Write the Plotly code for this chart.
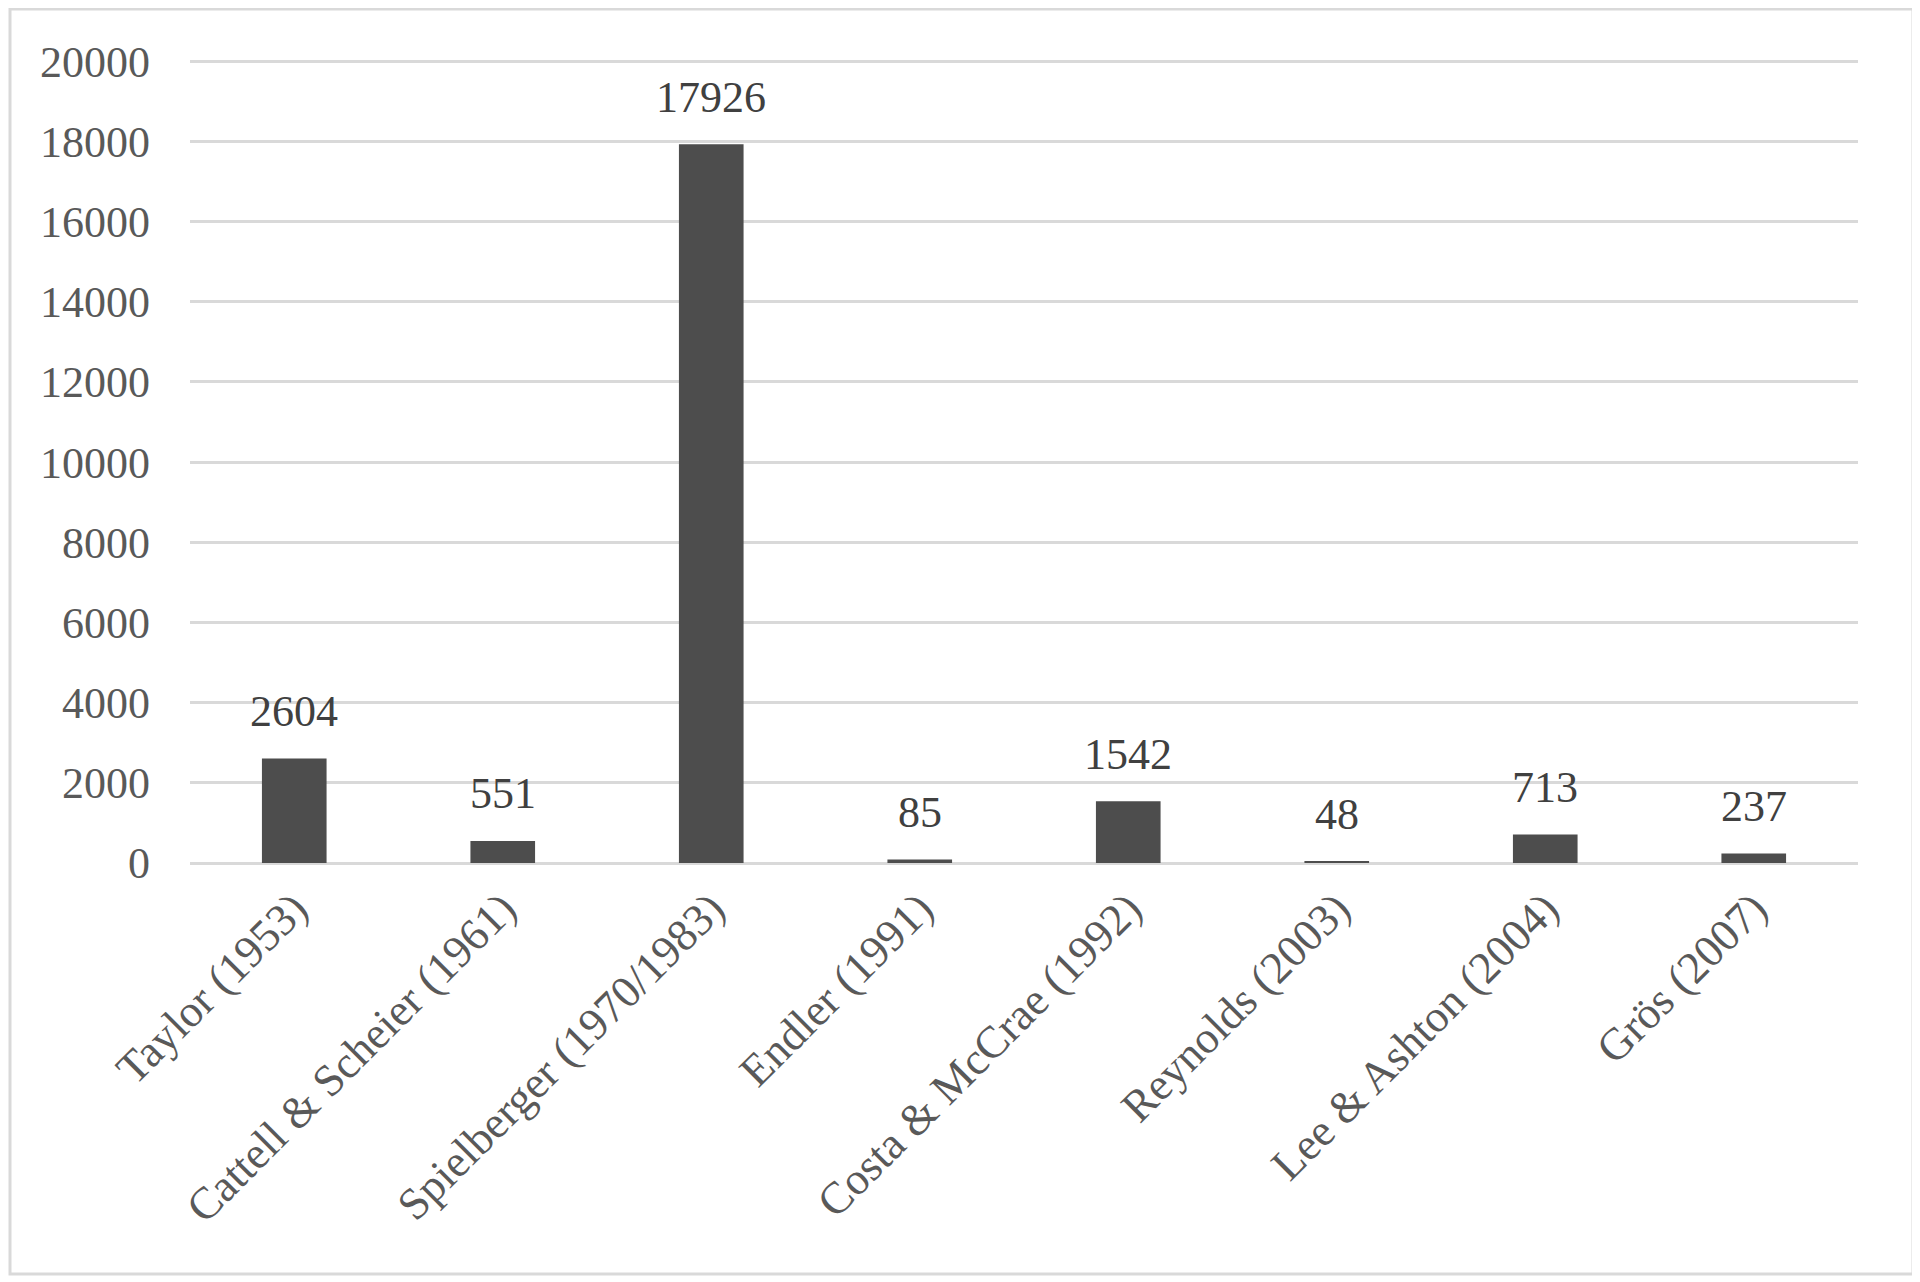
import plotly.graph_objects as go

categories = [
    "Taylor (1953)",
    "Cattell & Scheier (1961)",
    "Spielberger (1970/1983)",
    "Endler (1991)",
    "Costa & McCrae (1992)",
    "Reynolds (2003)",
    "Lee & Ashton (2004)",
    "Grös (2007)",
]
counts = [2604, 551, 17926, 85, 1542, 48, 713, 237]
y_ticks = [0, 2000, 4000, 6000, 8000, 10000, 12000, 14000, 16000, 18000, 20000]

serif = "Liberation Serif"
bar_color = "#4d4d4d"
grid_color = "#d9d9d9"

fig = go.Figure(go.Bar(
    x=categories,
    y=counts,
    marker=dict(color=bar_color, line=dict(width=0)),
    width=0.31,
    cliponaxis=False,
))

# value labels above bars
for cat, val in zip(categories, counts):
    fig.add_annotation(
        x=cat, y=val, text=str(val), showarrow=False,
        yanchor="middle", yshift=47,
        font=dict(family=serif, size=44, color="#404040"),
    )

# light frame around the whole chart
fig.add_shape(
    type="rect", xref="paper", yref="paper",
    xsizemode="pixel", ysizemode="pixel", xanchor=0, yanchor=1,
    x0=-180, x1=1723, y0=51, y1=-1214,
    line=dict(color=grid_color, width=3), layer="below",
)

fig.update_layout(
    width=1920, height=1282,
    margin=dict(l=182, r=70, t=52, b=427),
    paper_bgcolor="white", plot_bgcolor="white",
    showlegend=False,
    font=dict(family=serif, size=44, color="#595959"),
)
# range goes a hair past 20000 so the top gridline is drawn
fig.update_yaxes(
    range=[0, 20030], tickvals=y_ticks, ticktext=[str(v) for v in y_ticks],
    showgrid=True, gridcolor=grid_color, gridwidth=3,
    zeroline=True, zerolinecolor=grid_color, zerolinewidth=3,
    showline=False, ticks="", ticklabelstandoff=39,
)
fig.update_xaxes(
    tickangle=-45, showgrid=False, showline=False, ticks="",
    ticklabelstandoff=9, tickfont=dict(size=45),
)

fig.write_html("out.html")
